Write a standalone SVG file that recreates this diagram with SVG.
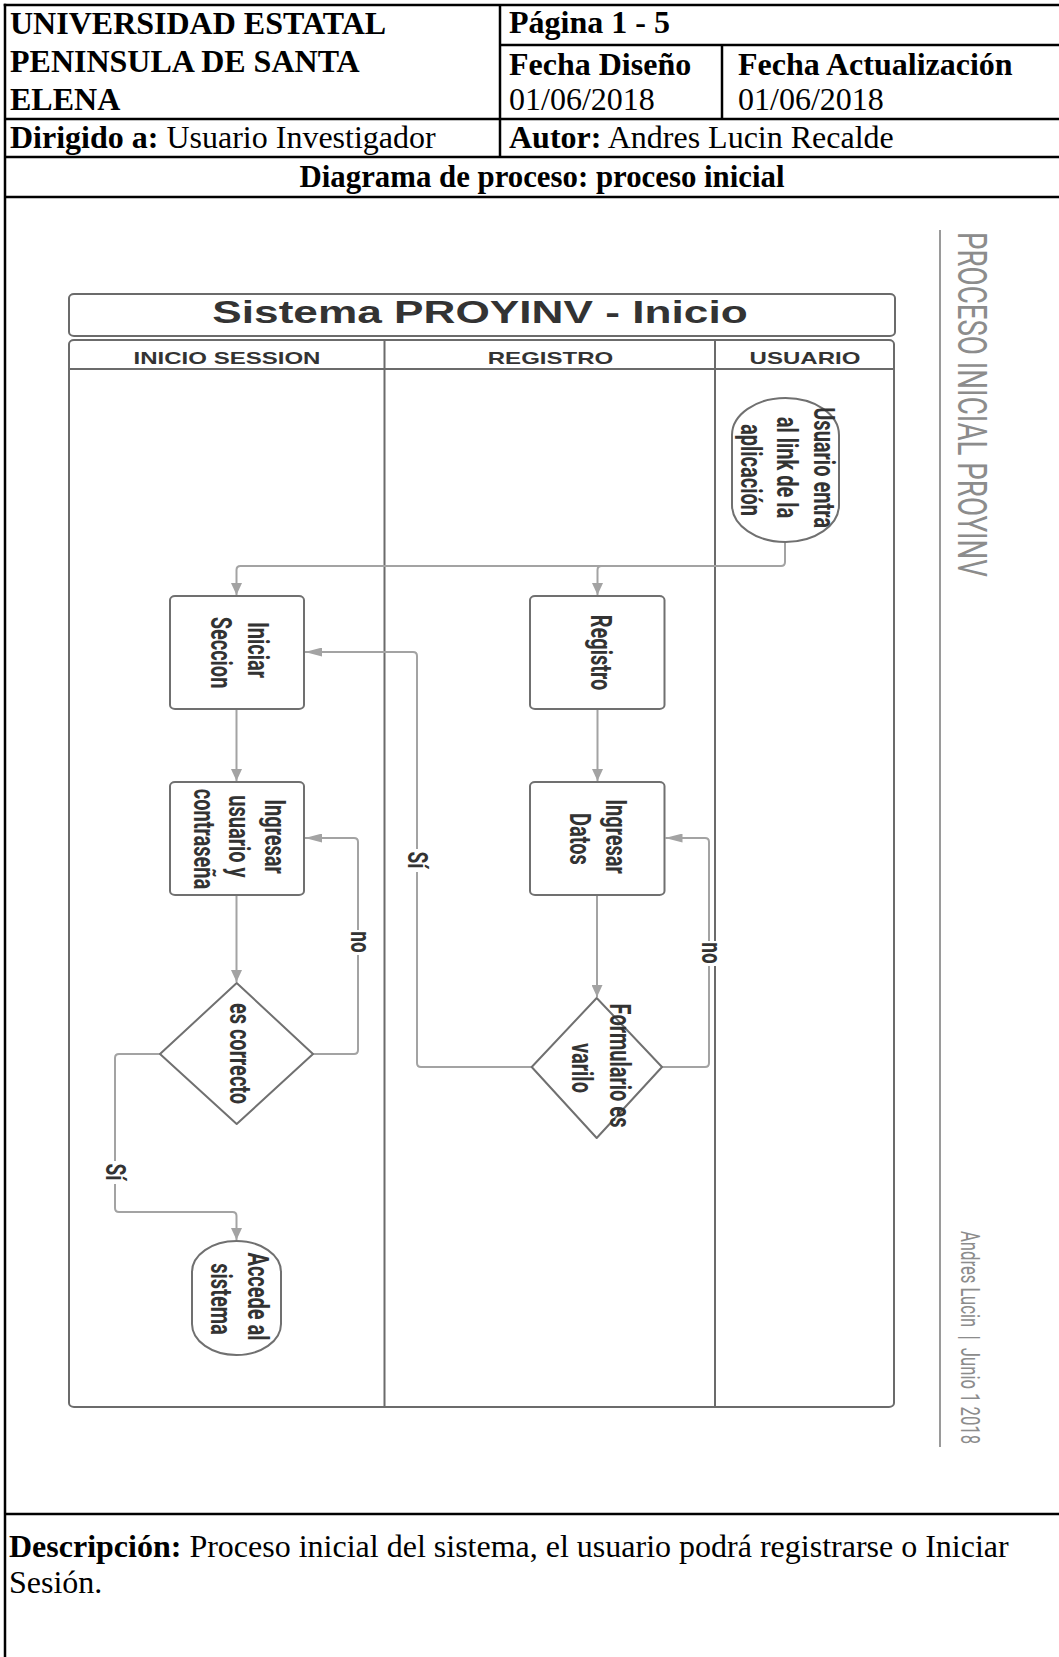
<svg xmlns="http://www.w3.org/2000/svg" width="1059" height="1657" viewBox="0 0 1059 1657">
  <style>
    .tbl { stroke: #000; stroke-width: 2.5; fill: none; }
    .t { font-family: "Liberation Serif", "Times New Roman", serif; font-size: 32px; fill: #000; }
    .b { font-weight: bold; }
    .lane { fill: none; stroke: #6b6b6b; stroke-width: 2; }
    .node { fill: #fff; stroke: #707070; stroke-width: 2; stroke-linejoin: round; }
    .lbl { font-family: Roboto, "Liberation Sans", Arial, sans-serif; font-size: 20px; font-weight: bold; fill: #333; text-anchor: middle; }
    .hdr { font-family: "Liberation Sans", Arial, sans-serif; font-weight: bold; fill: #333; text-anchor: middle; }
    .edge { fill: none; stroke: #a3a3a3; stroke-width: 2; }
    .elbl { font-family: Roboto, "Liberation Sans", Arial, sans-serif; font-size: 19px; font-weight: bold; fill: #333; text-anchor: middle; }
    .side { font-family: Roboto, "Liberation Sans", Arial, sans-serif; fill: #8c8c8c; }
  </style>
  <defs>
    <marker id="ah-v" markerUnits="userSpaceOnUse" markerWidth="12" markerHeight="11" viewBox="0 0 12 11" refX="12" refY="5.5" orient="auto">
      <path d="M0,0 L12,5.5 L0,11 Z" fill="#a3a3a3"/>
    </marker>
    <marker id="ah-h" markerUnits="userSpaceOnUse" markerWidth="17" markerHeight="9" viewBox="0 0 17 9" refX="17" refY="4.5" orient="auto">
      <path d="M0,0 L17,4.5 L0,9 Z" fill="#a3a3a3"/>
    </marker>
  </defs>

  <rect x="0" y="0" width="1059" height="1657" fill="#fff"/>

  <!-- header table -->
  <g id="header-table">
    <line class="tbl" x1="3.75" y1="5" x2="1059" y2="5"/>
    <line class="tbl" x1="5" y1="3.75" x2="5" y2="1657"/>
    <line class="tbl" x1="500" y1="5" x2="500" y2="157"/>
    <line class="tbl" x1="500" y1="45" x2="1059" y2="45"/>
    <line class="tbl" x1="722" y1="45" x2="722" y2="119"/>
    <line class="tbl" x1="5" y1="119" x2="1059" y2="119"/>
    <line class="tbl" x1="5" y1="157" x2="1059" y2="157"/>
    <line class="tbl" x1="5" y1="197" x2="1059" y2="197"/>
    <line class="tbl" x1="5" y1="1514" x2="1059" y2="1514"/>

    <text class="t b" x="10" y="34">UNIVERSIDAD ESTATAL</text>
    <text class="t b" x="10" y="72">PENINSULA DE SANTA</text>
    <text class="t b" x="10" y="110">ELENA</text>
    <text class="t b" x="509" y="33">Página 1 - 5</text>
    <text class="t b" x="509" y="75">Fecha Diseño</text>
    <text class="t b" x="738" y="75">Fecha Actualización</text>
    <text class="t" x="509" y="110">01/06/2018</text>
    <text class="t" x="738" y="110">01/06/2018</text>
    <text class="t" x="10" y="148"><tspan class="b">Dirigido a:</tspan> Usuario Investigador</text>
    <text class="t" x="509" y="148"><tspan class="b">Autor:</tspan> Andres Lucin Recalde</text>
    <text class="t b" x="542" y="187" text-anchor="middle" textLength="485" lengthAdjust="spacingAndGlyphs">Diagrama de proceso: proceso inicial</text>
    <text class="t" x="9" y="1557"><tspan class="b">Descripción:</tspan> Proceso inicial del sistema, el usuario podrá registrarse o Iniciar</text>
    <text class="t" x="9" y="1593">Sesión.</text>
  </g>

  <!-- swimlane pool -->
  <g id="pool">
    <rect class="lane" x="69" y="294" width="826" height="42" rx="5" ry="4"/>
    <text class="hdr" font-size="30.7" transform="translate(480 323) scale(1.44 1)">Sistema PROYINV - Inicio</text>
    <rect class="lane" x="69" y="340" width="825" height="1067" rx="5" ry="4"/>
    <line class="lane" x1="69" y1="369" x2="894" y2="369"/>
    <line class="lane" x1="384.5" y1="340" x2="384.5" y2="1407"/>
    <line class="lane" x1="715" y1="340" x2="715" y2="1407"/>
    <text class="hdr" font-size="16.7" transform="translate(227 364) scale(1.44 1)">INICIO SESSION</text>
    <text class="hdr" font-size="16.7" transform="translate(550.5 364) scale(1.44 1)">REGISTRO</text>
    <text class="hdr" font-size="16.7" transform="translate(805 364) scale(1.44 1)">USUARIO</text>
  </g>

  <!-- side caption -->
  <g id="caption">
    <line x1="940" y1="230" x2="940" y2="1447" stroke="#9a9a9a" stroke-width="2"/>
    <text class="side" font-size="27.7" textLength="345" lengthAdjust="spacingAndGlyphs" transform="translate(972 232) scale(1.44 1) rotate(90)" y="9.8">PROCESO INICIAL PROYINV</text>
    <text class="side" font-size="17.5" fill="#9a9a9a" textLength="213" lengthAdjust="spacingAndGlyphs" transform="translate(970 1231) scale(1.44 1) rotate(90)" y="6.2">Andres Lucin &#160;|&#160; Junio 1 2018</text>
  </g>

  <!-- connectors -->
  <g id="connectors">
    <path class="edge" d="M785 542 V562 Q785 566 781 566 H240.5 Q236.5 566 236.5 570 V595" marker-end="url(#ah-v)"/>
    <path class="edge" d="M601.5 566 Q597.5 566 597.5 570 V595" marker-end="url(#ah-v)"/>
    <path class="edge" d="M236.5 709 V781" marker-end="url(#ah-v)"/>
    <path class="edge" d="M236.5 895 V982" marker-end="url(#ah-v)"/>
    <path class="edge" d="M313 1054 H354 Q358 1054 358 1050 V842 Q358 838 354 838 H305" marker-end="url(#ah-h)"/>
    <path class="edge" d="M160 1054 H119 Q115 1054 115 1058 V1208 Q115 1212 119 1212 H232.5 Q236.5 1212 236.5 1216 V1240" marker-end="url(#ah-v)"/>
    <path class="edge" d="M597.5 709 V781" marker-end="url(#ah-v)"/>
    <path class="edge" d="M597 895 V997" marker-end="url(#ah-v)"/>
    <path class="edge" d="M662 1067 H705 Q709 1067 709 1063 V842 Q709 838 705 838 H665.5" marker-end="url(#ah-h)"/>
    <path class="edge" d="M531.7 1067 H421 Q417 1067 417 1063 V656 Q417 652 413 652 H305" marker-end="url(#ah-h)"/>

    <rect x="349" y="930" width="18" height="25" fill="#fff"/>
    <text class="elbl" transform="translate(358 942) scale(1.44 1) rotate(90)" y="5">no</text>
    <rect x="700" y="941" width="18" height="25" fill="#fff"/>
    <text class="elbl" transform="translate(709 953) scale(1.44 1) rotate(90)" y="5">no</text>
    <rect x="406" y="849" width="22" height="23" fill="#fff"/>
    <text class="elbl" transform="translate(417 860) scale(1.44 1) rotate(90)" y="6.5">Sí</text>
    <rect x="104" y="1161" width="22" height="23" fill="#fff"/>
    <text class="elbl" transform="translate(115 1172) scale(1.44 1) rotate(90)" y="6.5">Sí</text>
  </g>

  <!-- nodes -->
  <g id="usuario-entra">
    <rect class="node" x="732" y="398" width="107" height="144" rx="53.5" ry="37"/>
    <text class="lbl" transform="translate(787.5 470) scale(1.44 1) rotate(90)">
      <tspan x="0" y="-18.3">Usuario entra</tspan>
      <tspan x="0" y="7">al link de la</tspan>
      <tspan x="0" y="32.3">aplicación</tspan>
    </text>
  </g>

  <g id="iniciar-seccion">
    <rect class="node" x="170" y="596" width="134" height="113" rx="5" ry="4"/>
    <text class="lbl" transform="translate(239.5 652.5) scale(1.44 1) rotate(90)">
      <tspan x="0" y="-5.85">Iniciar</tspan>
      <tspan x="0" y="19.85">Seccion</tspan>
    </text>
  </g>

  <g id="registro">
    <rect class="node" x="530" y="596" width="134.5" height="113" rx="5" ry="4"/>
    <text class="lbl" transform="translate(601 652.5) scale(1.44 1) rotate(90)" y="7">Registro</text>
  </g>

  <g id="ingresar-usuario">
    <rect class="node" x="170" y="782" width="134" height="113" rx="5" ry="4"/>
    <text class="lbl" transform="translate(239.5 839) scale(1.44 1) rotate(90)">
      <tspan x="0" y="-17.7">Ingresar</tspan>
      <tspan x="0" y="7">usuario y</tspan>
      <tspan x="0" y="31.7">contraseña</tspan>
    </text>
  </g>

  <g id="ingresar-datos">
    <rect class="node" x="530" y="782" width="134.5" height="113" rx="5" ry="4"/>
    <text class="lbl" transform="translate(598 839) scale(1.44 1) rotate(90)">
      <tspan x="0" y="-5.25">Ingresar</tspan>
      <tspan x="0" y="19.25">Datos</tspan>
    </text>
  </g>

  <g id="es-correcto">
    <polygon class="node" points="236.7,983 313,1054 236.7,1124 160,1054"/>
    <text class="lbl" transform="translate(240 1053.5) scale(1.44 1) rotate(90)" y="7">es correcto</text>
  </g>

  <g id="formulario-varilo">
    <polygon class="node" points="596.7,998 662,1067 596.7,1138 531.7,1067"/>
    <text class="lbl" transform="translate(601 1068) scale(1.44 1) rotate(90)">
      <tspan x="0" y="-6.3">Formulario es</tspan>
      <tspan x="0" y="20.3">varilo</tspan>
    </text>
  </g>

  <g id="accede-sistema">
    <rect class="node" x="192" y="1241" width="89" height="114" rx="44.5" ry="31"/>
    <text class="lbl" transform="translate(239.5 1299) scale(1.44 1) rotate(90)">
      <tspan x="0" y="-5.85">Accede al</tspan>
      <tspan x="0" y="19.85">sistema</tspan>
    </text>
  </g>
</svg>
